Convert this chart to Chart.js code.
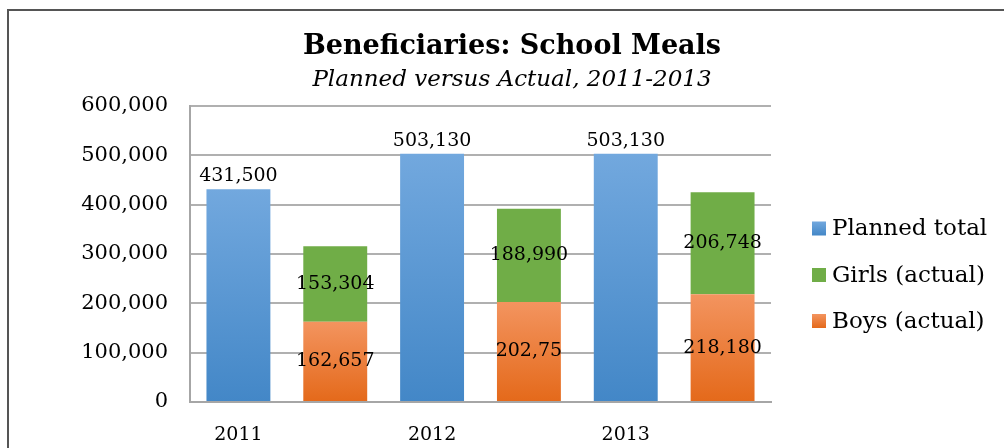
<!DOCTYPE html>
<html lang="en">
<head>
<meta charset="UTF-8">
<title>Beneficiaries: School Meals</title>
<script src="https://cdn.jsdelivr.net/npm/chart.js"></script>
<style>
    body { margin: 0; background: #fff; }
    .chart-box { width: 1004px; height: 448px; position: relative; }
</style>
</head>
<body>
<div class="chart-box"><canvas id="mealsChart"></canvas></div>
<script>
// one slot per bar: planned bar sits under the year, actual bar in the blank slot next to it
const slotLabels = ['2011', '', '2012', '', '2013', ''];
const plannedTotal = [431500, null, 503130, null, 503130, null];
const boysActual = [null, 162657, null, 202750, null, 218180];
const girlsActual = [null, 153304, null, 188990, null, 206748];
// labels as printed on the original (2012 boys is cut short there)
const boysText = [null, '162,657', null, '202,75', null, '218,180'];
const yTicks = [0, 100000, 200000, 300000, 400000, 500000, 600000];
const legendNames = ['Planned total', 'Girls (actual)', 'Boys (actual)'];

const SERIF = '"DejaVu Serif", serif';
const BLUE = ['#72a8de', '#4387c7'];
const ORANGE = ['#f3945f', '#e4691a'];
const GREEN = '#70ad47';

// top-to-bottom gradient for each bar, like the Excel fill
function barFill(colors) {
    return function (ctx) {
        const chart = ctx.chart;
        const y = chart.scales.y;
        if (!chart.chartArea || !y || ctx.raw == null) return colors[1];
        const top = y.getPixelForValue(ctx.raw);
        const bottom = y.getPixelForValue(0);
        const g = chart.ctx.createLinearGradient(0, top, 0, bottom);
        g.addColorStop(0, colors[0]);
        g.addColorStop(1, colors[1]);
        return g;
    };
}

const extras = {
    id: 'extras',
    beforeDraw(chart) {
        const c = chart.ctx;
        c.save();
        c.strokeStyle = '#555';
        c.lineWidth = 2;
        c.beginPath();
        c.moveTo(8, chart.height);
        c.lineTo(8, 10);
        c.lineTo(chart.width, 10);
        c.stroke();
        c.restore();
    },
    afterDatasetsDraw(chart) {
        const c = chart.ctx;
        c.save();
        c.font = '19px ' + SERIF;
        c.fillStyle = '#000';
        c.textAlign = 'center';
        chart.data.datasets.forEach((ds, i) => {
            chart.getDatasetMeta(i).data.forEach((bar, j) => {
                const v = ds.data[j];
                if (v == null) return;
                if (i === 0) {
                    c.textBaseline = 'alphabetic';
                    c.fillText(v.toLocaleString('en-US'), bar.x, bar.y - 8);
                } else {
                    const txt = i === 1 ? boysText[j] : v.toLocaleString('en-US');
                    c.textBaseline = 'middle';
                    c.fillText(txt, bar.x, (bar.y + bar.base) / 2);
                }
            });
        });
        c.restore();
    },
    afterDraw(chart) {
        const c = chart.ctx;
        const x = chart.chartArea.right + 41;
        const rows = [228.5, 275, 321];
        const swatches = [BLUE, [GREEN, GREEN], ORANGE];
        c.save();
        c.font = '23px ' + SERIF;
        c.textBaseline = 'middle';
        legendNames.forEach((name, i) => {
            const g = c.createLinearGradient(0, rows[i] - 7, 0, rows[i] + 7);
            g.addColorStop(0, swatches[i][0]);
            g.addColorStop(1, swatches[i][1]);
            c.fillStyle = g;
            c.fillRect(x, rows[i] - 7, 14, 14);
            c.fillStyle = '#000';
            c.fillText(name, x + 20, rows[i] + 1);
        });
        c.restore();
    }
};

new Chart(document.getElementById('mealsChart'), {
    type: 'bar',
    data: {
        labels: slotLabels,
        datasets: [
            { label: legendNames[0], data: plannedTotal, backgroundColor: barFill(BLUE) },
            { label: legendNames[2], data: boysActual, backgroundColor: barFill(ORANGE) },
            { label: legendNames[1], data: girlsActual, backgroundColor: GREEN }
        ]
    },
    options: {
        responsive: true,
        maintainAspectRatio: false,
        animation: false,
        categoryPercentage: 1,
        barPercentage: 0.66,
        layout: { padding: { left: 20, right: 0, top: 31, bottom: 0 } },
        plugins: {
            legend: { display: false },
            tooltip: { enabled: false },
            title: {
                display: true,
                text: 'Beneficiaries: School Meals',
                color: '#000',
                font: { family: SERIF, size: 27, weight: 'bold' },
                padding: { top: 0, bottom: 3 }
            },
            subtitle: {
                display: true,
                text: 'Planned versus Actual, 2011-2013',
                color: '#000',
                font: { family: SERIF, size: 23, style: 'italic' },
                padding: { top: 0, bottom: 12 }
            }
        },
        scales: {
            x: {
                stacked: true,
                grid: { display: false },
                border: { color: '#a6a6a6', width: 2 },
                ticks: { color: '#000', font: { family: SERIF, size: 19 }, padding: 14, maxRotation: 0, autoSkip: false },
                afterFit: s => { s.height = 46; }
            },
            y: {
                stacked: true,
                min: yTicks[0],
                max: yTicks[yTicks.length - 1],
                afterBuildTicks: s => { s.ticks = yTicks.map(v => ({ value: v })); },
                grid: { color: '#b0b0b0', lineWidth: 2, drawTicks: false },
                border: { color: '#a6a6a6', width: 2 },
                ticks: {
                    color: '#000',
                    padding: 22,
                    font: { family: SERIF, size: 21 },
                    callback: v => v.toLocaleString('en-US')
                },
                afterFit: s => { s.width = 170; }
            },
            // empty axis that only keeps room for the legend on the right
            room: {
                position: 'right',
                grid: { display: false },
                border: { display: false },
                ticks: { display: false },
                afterFit: s => { s.width = 233; }
            }
        }
    },
    plugins: [extras]
});
</script>
</body>
</html>
